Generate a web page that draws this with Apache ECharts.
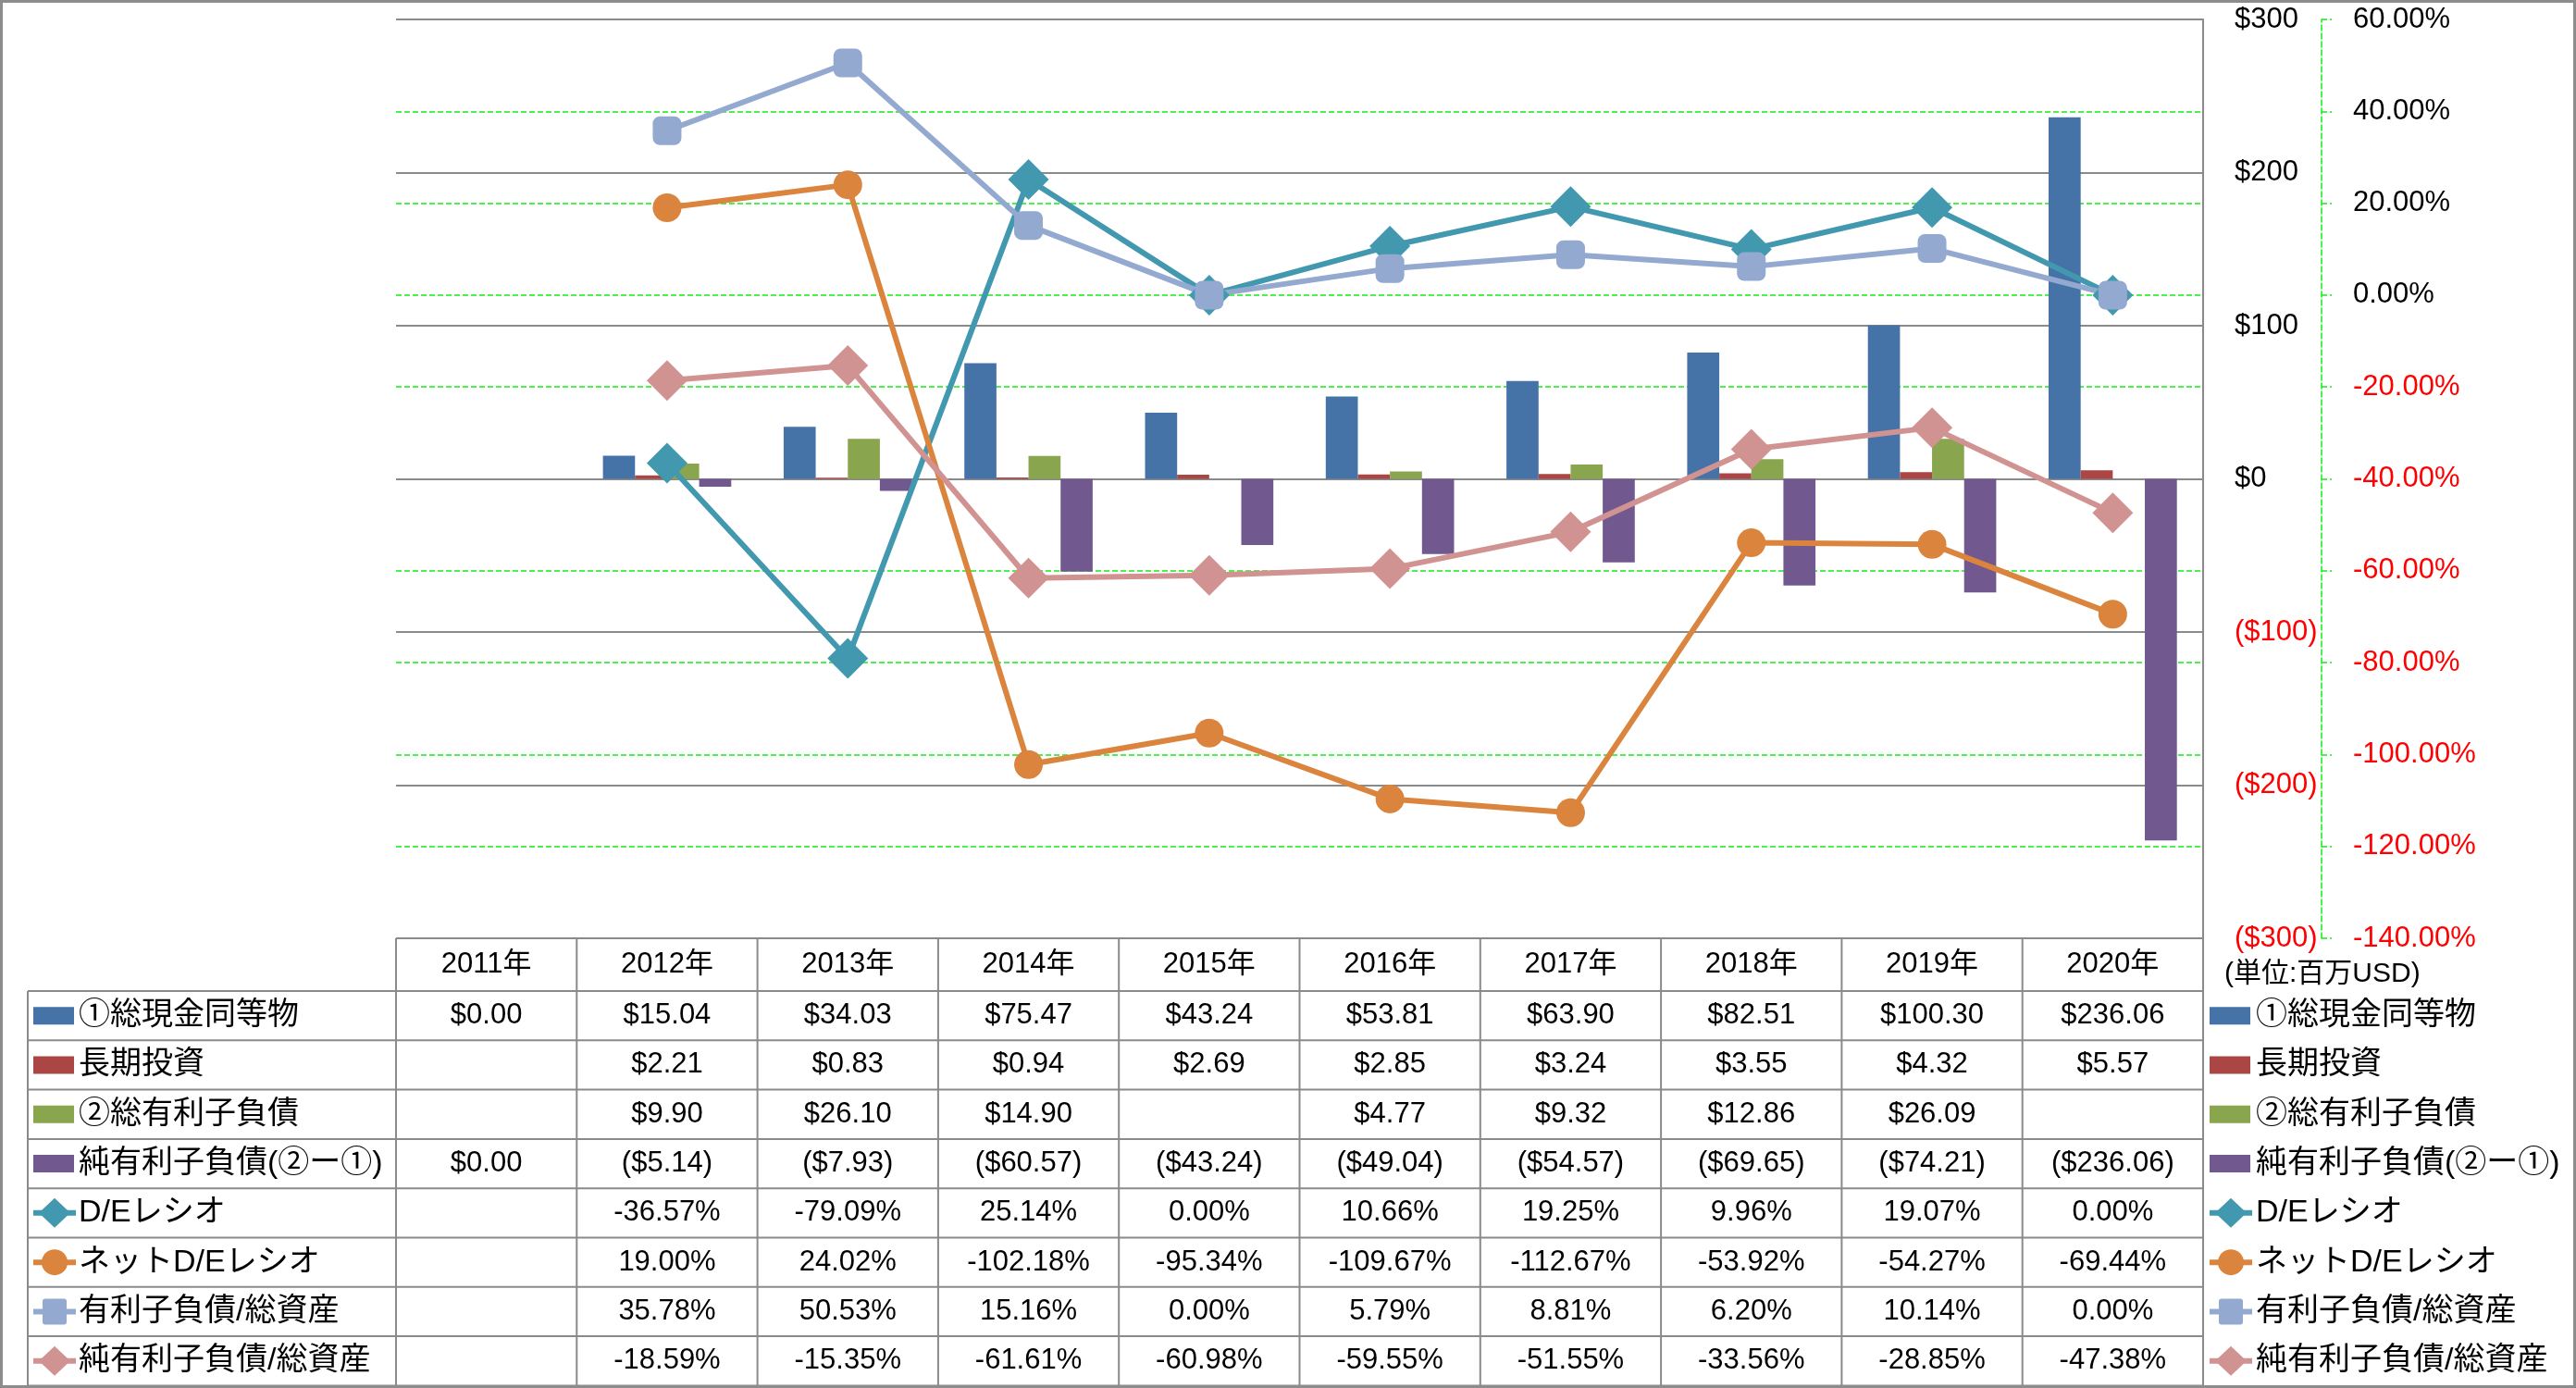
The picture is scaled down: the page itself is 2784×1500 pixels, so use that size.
<!DOCTYPE html>
<html><head><meta charset="utf-8">
<script src="https://cdn.jsdelivr.net/npm/echarts@6/dist/echarts.min.js"></script>
<style>html,body{margin:0;padding:0;background:#fff}#c{width:2784px;height:1500px}</style>
</head><body><div id="c"></div>
<script>
// ---------- data ----------
const years = ['2011年','2012年','2013年','2014年','2015年','2016年','2017年','2018年','2019年','2020年'];
const cash = [0.00, 15.04, 34.03, 75.47, 43.24, 53.81, 63.90, 82.51, 100.30, 236.06];
const ltInvest = [null, 2.21, 0.83, 0.94, 2.69, 2.85, 3.24, 3.55, 4.32, 5.57];
const debt = [null, 9.90, 26.10, 14.90, null, 4.77, 9.32, 12.86, 26.09, null];
const netDebt = [0.00, -5.14, -7.93, -60.57, -43.24, -49.04, -54.57, -69.65, -74.21, -236.06];
const deRatio = [null, -36.57, -79.09, 25.14, 0.00, 10.66, 19.25, 9.96, 19.07, 0.00];
const netDeRatio = [null, 19.00, 24.02, -102.18, -95.34, -109.67, -112.67, -53.92, -54.27, -69.44];
const debtToAssets = [null, 35.78, 50.53, 15.16, 0.00, 5.79, 8.81, 6.20, 10.14, 0.00];
const netDebtToAssets = [null, -18.59, -15.35, -61.61, -60.98, -59.55, -51.55, -33.56, -28.85, -47.38];
const moneyAxis = {min: -300, max: 300, interval: 100};
const pctAxis = {min: -140, max: 60, interval: 20};
const unitNote = '(単位:百万USD)';

const seriesDefs = [
  {name: '①総現金同等物', kind: 'bar', data: cash, color: '#4572A7', fmt: 'money'},
  {name: '長期投資', kind: 'bar', data: ltInvest, color: '#AA4643', fmt: 'money'},
  {name: '②総有利子負債', kind: 'bar', data: debt, color: '#89A54E', fmt: 'money'},
  {name: '純有利子負債(②ー①)', kind: 'bar', data: netDebt, color: '#71588F', fmt: 'money'},
  {name: 'D/Eレシオ', kind: 'line', data: deRatio, color: '#4198AF', symbol: 'diamond', fmt: 'pct'},
  {name: 'ネットD/Eレシオ', kind: 'line', data: netDeRatio, color: '#DB843D', symbol: 'circle', fmt: 'pct'},
  {name: '有利子負債/総資産', kind: 'line', data: debtToAssets, color: '#93A9CF', symbol: 'square', fmt: 'pct'},
  {name: '純有利子負債/総資産', kind: 'line', data: netDebtToAssets, color: '#D19392', symbol: 'diamond', fmt: 'pct'}
];

// ---------- layout ----------
const W = 2784, H = 1500;
const PL = 428, PR = 2381, PT = 21, PB = 1014;
const colW = (PR - PL) / years.length;
const headBottom = 1071, rowH = 53.3;
const labelLeft = 30;
const FONT = "'Liberation Sans','Noto Sans CJK JP',sans-serif";
const GRID = '#8a8a8a';
const GREEN = '#10ee10';

function money(v){ if (v == null) return ''; return v < 0 ? '($' + (-v).toFixed(2) + ')' : '$' + v.toFixed(2); }
function pct(v){ if (v == null) return ''; return v.toFixed(2) + '%'; }

const series = seriesDefs.map(d => {
  if (d.kind === 'bar') {
    return {name: d.name, type: 'bar', yAxisIndex: 0, data: d.data, barGap: '0%', barCategoryGap: '29%',
      itemStyle: {color: d.color}, z: 2};
  }
  const diamond = d.symbol === 'diamond';
  return {name: d.name, type: 'line', yAxisIndex: 1, data: d.data,
    symbol: d.symbol === 'square' ? 'roundRect' : d.symbol,
    symbolSize: diamond ? [44, 44] : 31,
    lineStyle: {width: 6, color: d.color}, itemStyle: {color: d.color},
    z: 5};
});

// ---------- table + legend graphics ----------
const g = [];
function line(x1, y1, x2, y2, stroke, w){ g.push({type:'line', shape:{x1,y1,x2,y2}, style:{stroke: stroke || GRID, lineWidth: w || 2}, silent:true, z:10}); }
function text(x, y, s, opt){ opt = opt || {}; g.push({type:'text', x, y, style:{text: s, fontSize: opt.size || 31, fontFamily: FONT, fill: opt.fill || '#000', align: opt.align || 'center', verticalAlign: 'middle'}, silent:true, z:11}); }
function key(x, cy, d){
  if (d.kind === 'bar') {
    g.push({type:'rect', shape:{x, y: cy - 9.5, width: 44, height: 19}, style:{fill: d.color}, silent:true, z:11});
    return;
  }
  line(x, cy, x + 46, cy, d.color, 6);
  const cx = x + 23;
  if (d.symbol === 'diamond') g.push({type:'polygon', shape:{points:[[cx, cy-16],[cx+17, cy],[cx, cy+16],[cx-17, cy]]}, style:{fill: d.color}, silent:true, z:12});
  else if (d.symbol === 'circle') g.push({type:'circle', shape:{cx, cy, r: 14}, style:{fill: d.color}, silent:true, z:12});
  else g.push({type:'rect', shape:{x: cx-13, y: cy-14, width: 26, height: 28, r: 3}, style:{fill: d.color}, silent:true, z:12});
}

// frame
g.push({type:'rect', shape:{x:1.5, y:1.5, width: W-3, height: H-3}, style:{fill:'none', stroke:'#8c8c8c', lineWidth:3}, silent:true, z:20});
// horizontal table lines
line(PL, PB, PR, PB);
line(PL, PT, PR, PT);
for (let k = 0; k <= seriesDefs.length; k++) {
  const y = headBottom + k * rowH;
  line(labelLeft, y, PR, y);
}
// vertical table lines
line(labelLeft, headBottom, labelLeft, H);
for (let i = 0; i <= years.length; i++) line(PL + i * colW, PB, PL + i * colW, H);
// header
years.forEach((yname, i) => text(PL + (i + 0.5) * colW, (PB + headBottom) / 2, yname));
// rows
seriesDefs.forEach((d, r) => {
  const cy = headBottom + (r + 0.5) * rowH;
  key(36, cy, d);
  text(85, cy, d.name, {align: 'left', size: 34});
  d.data.forEach((v, i) => {
    const s = d.fmt === 'money' ? money(v) : pct(v);
    text(PL + (i + 0.5) * colW, cy, s);
  });
  // right legend
  key(2388, cy, d);
  text(2438, cy, d.name, {align: 'left', size: 34});
});
text(2404, 1053, unitNote, {align: 'left', size: 30});

const option = {
  animation: false,
  backgroundColor: '#fff',
  grid: {left: PL, right: W - PR, top: PT, bottom: H - PB, containLabel: false},
  xAxis: {type: 'category', data: years, axisLine: {show: false}, axisTick: {show: false}, axisLabel: {show: false}, splitLine: {show: false}},
  yAxis: [
    {type: 'value', position: 'right', min: moneyAxis.min, max: moneyAxis.max, interval: moneyAxis.interval, z: 1,
      axisLine: {show: true, lineStyle: {color: GRID, width: 2}}, axisTick: {show: false},
      axisLabel: {margin: 34, fontSize: 31, fontFamily: FONT,
        formatter: v => v < 0 ? '($' + (-v) + ')' : '$' + v,
        color: v => (+v < 0 ? '#ff0000' : '#000')},
      splitLine: {show: true, lineStyle: {color: GRID, width: 2}}},
    {type: 'value', position: 'right', offset: 128, min: pctAxis.min, max: pctAxis.max, interval: pctAxis.interval, z: 0,
      axisLine: {show: true, lineStyle: {color: GREEN, width: 1.5, type: [6, 3]}},
      axisTick: {show: true, length: 11, lineStyle: {color: GREEN, width: 1.5, type: [6, 3]}},
      axisLabel: {margin: 34, fontSize: 31, fontFamily: FONT,
        formatter: v => v.toFixed(2) + '%',
        color: v => (+v < 0 ? '#ff0000' : '#000')},
      splitLine: {show: true, lineStyle: {color: GREEN, width: 1.5, type: [6, 3]}}}
  ],
  series: series,
  graphic: {elements: g}
};
const chart = echarts.init(document.getElementById('c'), null, {renderer: 'canvas'});
chart.setOption(option);
</script></body></html>
